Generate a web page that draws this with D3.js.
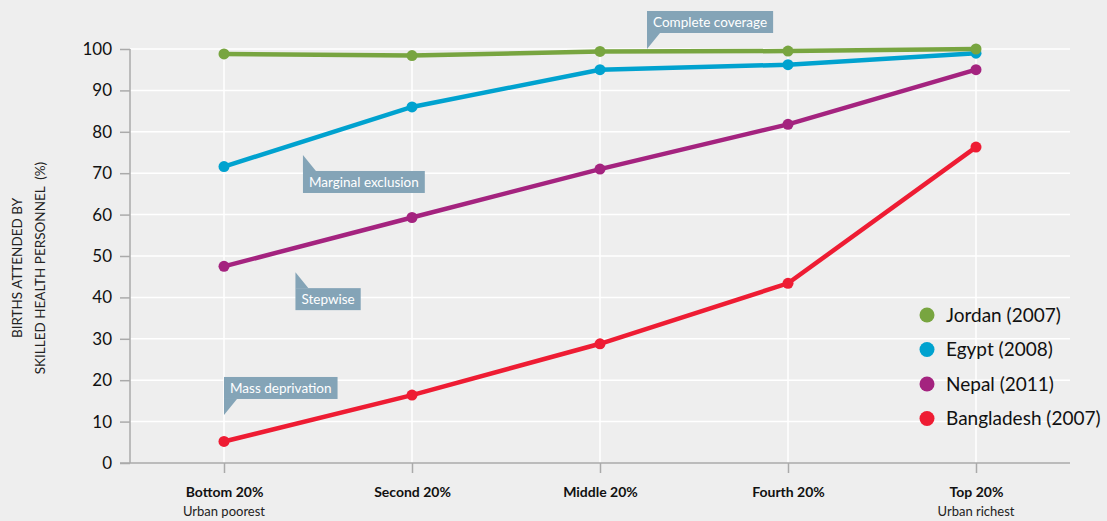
<!DOCTYPE html>
<html><head><meta charset="utf-8">
<script src="https://cdn.jsdelivr.net/npm/d3@7"></script>
<style>body{margin:0;background:#eeeeee;font-family:Lato,"Open Sans",sans-serif}</style>
</head><body><div id="viz"></div>
<script>
const categories = ['Bottom 20%', 'Second 20%', 'Middle 20%', 'Fourth 20%', 'Top 20%'];
const subLabels = ['Urban poorest', '', '', '', 'Urban richest'];
const seriesNames = ['Jordan (2007)', 'Egypt (2008)', 'Nepal (2011)', 'Bangladesh (2007)'];
const jordan = [98.8, 98.4, 99.4, 99.5, 100];
const egypt = [71.6, 86, 95, 96.2, 99];
const nepal = [47.5, 59.3, 71, 81.8, 95];
const bangladesh = [5.2, 16.4, 28.8, 43.4, 76.3];
const colors = ['#78a540', '#00a2cf', '#a4237f', '#ee1c33'];
const yTicks = [0, 10, 20, 30, 40, 50, 60, 70, 80, 90, 100];
// callouts: [label, category position, value at tail tip, tail direction]
const callouts = [
  ['Complete coverage', 2.25, 100, 'down'],
  ['Marginal exclusion', 0.42, 74.4, 'up'],
  ['Stepwise', 0.38, 46.1, 'up'],
  ['Mass deprivation', 0, 11.6, 'down']
];

const W = 1107, H = 521;
const mLeft = 130, mRight = 1070, mTop = 49, mBottom = 463;
const svg = d3.select('#viz').append('svg').attr('width', W).attr('height', H);
svg.append('rect').attr('width', W).attr('height', H).attr('fill', '#eeeeee');

const x = d3.scalePoint().domain(categories).range([mLeft, mRight]).padding(0.5);
const xi = i => mLeft + x.step() * (0.5 + i);
const y = d3.scaleLinear().domain([0, 100]).range([mBottom, mTop]);

// GRID
svg.append('g').selectAll('line').data(yTicks.slice(1)).join('line')
  .attr('x1', mLeft).attr('x2', mRight).attr('y1', d => y(d)).attr('y2', d => y(d))
  .attr('stroke', '#fff').attr('stroke-width', 1.5);
svg.append('g').selectAll('line').data(categories).join('line')
  .attr('x1', d => x(d)).attr('x2', d => x(d)).attr('y1', mTop).attr('y2', mBottom)
  .attr('stroke', '#fff').attr('stroke-width', 1.5);

// AXES
const yAxis = svg.append('g').attr('transform', `translate(${mLeft},0)`)
  .call(d3.axisLeft(y).tickValues(yTicks).tickSize(10).tickPadding(8));
yAxis.select('.domain').attr('stroke', '#aaa').attr('stroke-width', 1.5).attr('d', `M0,${mTop}V${mBottom}`);
yAxis.selectAll('.tick line').attr('stroke', '#aaa').attr('stroke-width', 1.5);
yAxis.selectAll('text').attr('font-size', 17).attr('fill', '#111').attr('font-family', 'Lato');

const xAxis = svg.append('g').attr('transform', `translate(0,${mBottom})`)
  .call(d3.axisBottom(x).tickSize(10).tickPadding(14));
xAxis.select('.domain').attr('stroke', '#aaa').attr('stroke-width', 1.5).attr('d', `M${mLeft - 10},0H${mRight}`);
xAxis.selectAll('.tick line').attr('stroke', '#aaa').attr('stroke-width', 1.5);
xAxis.selectAll('text').attr('font-size', 14).attr('font-weight', 'bold').attr('fill', '#111').attr('font-family', 'Lato');
svg.append('g').selectAll('text').data(categories).join('text')
  .attr('x', d => x(d)).attr('y', mBottom + 53).attr('text-anchor', 'middle')
  .attr('font-size', 13).attr('fill', '#222').text((d, i) => subLabels[i]);

// Y TITLE
const yt = svg.append('text').attr('transform', `translate(22,${(mTop + mBottom) / 2 + 12}) rotate(-90)`)
  .attr('text-anchor', 'middle').attr('font-size', 13.5).attr('fill', '#222');
yt.append('tspan').attr('x', 0).attr('dy', 0).text('BIRTHS ATTENDED BY');
yt.append('tspan').attr('x', 0).attr('dy', 23).attr('xml:space', 'preserve').text('SKILLED HEALTH PERSONNEL  (%)');

// CALLOUTS
callouts.forEach(([label, pos, val, dir]) => {
  const tx = xi(pos), ty = y(val);
  const g = svg.append('g');
  const t = g.append('text').attr('font-size', 13.5).attr('fill', '#fff').text(label);
  const w = t.node().getComputedTextLength() + 12, h = 22;
  const by = dir === 'up' ? ty + 16 : ty - 16 - h;
  g.insert('rect', 'text').attr('x', tx).attr('y', by).attr('width', w).attr('height', h).attr('fill', '#84a4b7');
  const edge = dir === 'up' ? by : by + h;
  g.insert('path', 'text').attr('d', `M${tx},${edge}L${tx},${ty}L${tx + 13},${edge}Z`).attr('fill', '#84a4b7');
  t.attr('x', tx + 6).attr('y', by + 16);
});

// LINES
const series = [jordan, egypt, nepal, bangladesh];
const line = d3.line().x((d, i) => x(categories[i])).y(d => y(d));
[3, 2, 1, 0].forEach(s => {
  const g = svg.append('g');
  g.append('path').attr('d', line(series[s])).attr('fill', 'none')
    .attr('stroke', colors[s]).attr('stroke-width', 4.5);
  g.selectAll('circle').data(series[s]).join('circle')
    .attr('cx', (d, i) => x(categories[i])).attr('cy', d => y(d)).attr('r', 5.5).attr('fill', colors[s]);
});

// LEGEND
const lg = svg.append('g').attr('transform', 'translate(927,315)');
seriesNames.forEach((n, i) => {
  lg.append('circle').attr('cx', 0).attr('cy', i * 34.5).attr('r', 7.5).attr('fill', colors[i]);
  lg.append('text').attr('x', 19).attr('y', i * 34.5 + 6.5).attr('font-size', 19).attr('fill', '#111').text(n);
});
</script></body></html>
